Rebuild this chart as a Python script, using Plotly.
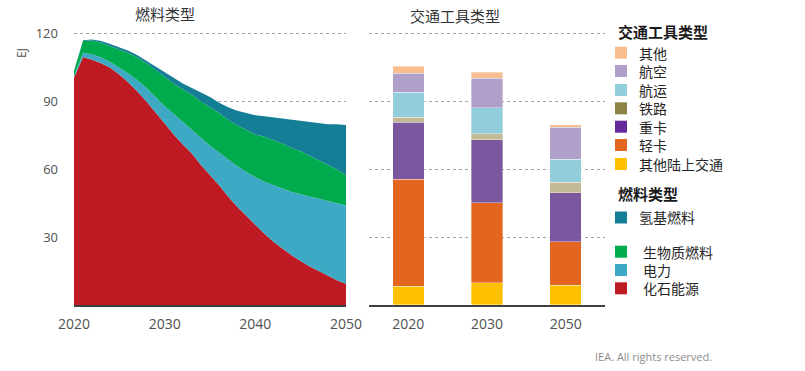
import plotly.graph_objects as go

W, H = 805, 371

# ---------------- data ----------------
years = list(range(2020, 2051))
fossil = [100.6, 109.7, 108.5, 107, 105, 102, 98.5, 94.5, 90, 85, 80, 75.5, 71, 67, 62, 57.5,
          53, 48, 43.5, 39.5, 35.5, 31.5, 28, 25, 22, 19.5, 17, 15, 13, 11, 9.4]
electricity = [0.6, 1.9, 2.5, 2.5, 2.5, 3, 4, 5, 6, 7, 8, 9, 10, 10.5, 12, 13,
               14.5, 16.5, 18, 19.5, 21, 23, 25, 26.5, 28, 29.5, 31, 32, 33, 34, 34.6]
biofuel = [2.3, 5.2, 6, 6.5, 7, 8, 9, 10, 11, 12, 13, 13.5, 14.5, 15.5, 16, 17,
           17.5, 17.5, 18, 18.5, 19, 20, 20, 20, 19.5, 19, 18, 17, 16, 15, 13.5]
hydrogen = [0.2, 0.4, 0.5, 0.8, 1, 1, 1, 1, 1, 1.5, 2, 2.5, 2.5, 3, 4, 4.5,
            4.5, 5.5, 6.5, 7.5, 8.5, 9, 10, 11, 12.5, 13.5, 15, 16.5, 18, 20, 22.1]

bar_years = ["2020", "2030", "2050"]
other_land = [8.4, 9.8, 8.7]
light_truck = [47.2, 35.5, 19.2]
heavy_truck = [25.3, 27.9, 21.8]
rail = [2.2, 2.5, 4.7]
shipping = [11.0, 11.5, 10.1]
aviation = [8.4, 13.2, 14.1]
other = [3.1, 2.5, 1.1]

y_ticks = [30, 60, 90, 120]
x_ticks = [2020, 2030, 2040, 2050]

fuel_names = ["化石能源", "电力", "生物质燃料", "氢基燃料"]
mode_names = ["其他陆上交通", "轻卡", "重卡", "铁路", "航运", "航空", "其他"]

# ---------------- styles ----------------
fuel_colors = {"化石能源": "#BE1A23", "电力": "#3DA9C4", "生物质燃料": "#00AB4E", "氢基燃料": "#147E96"}
bar_colors = {"其他陆上交通": "#FFC000", "轻卡": "#E2661F", "重卡": "#7A579E", "铁路": "#C4BB96",
              "航运": "#92CDDC", "航空": "#B09FC8", "其他": "#F9BE8F"}
legend_mode_colors = {"其他": "#F9BE8F", "航空": "#B09FC8", "航运": "#92CDDC", "铁路": "#8E8346",
                      "重卡": "#66289A", "轻卡": "#E2661F", "其他陆上交通": "#FFC000"}

FONT = "Open Sans, Noto Sans CJK SC, sans-serif"
CJK = "Noto Sans CJK SC, sans-serif"
TICK = "#505050"
GRID = "#A6A6A6"


def px_x(p):
    return p / W


def px_y(p):
    return 1 - p / H


fig = go.Figure()

fuel_series = {"化石能源": fossil, "电力": electricity, "生物质燃料": biofuel, "氢基燃料": hydrogen}
for name in fuel_names:
    fig.add_trace(go.Scatter(
        x=years, y=fuel_series[name], name=name, mode="lines",
        stackgroup="fuel", line=dict(width=0, color=fuel_colors[name]),
        fillcolor=fuel_colors[name], xaxis="x", yaxis="y", showlegend=False,
        hoverinfo="x+y+name"))

mode_series = {"其他陆上交通": other_land, "轻卡": light_truck, "重卡": heavy_truck, "铁路": rail,
               "航运": shipping, "航空": aviation, "其他": other}
for name in mode_names:
    fig.add_trace(go.Bar(
        x=bar_years, y=mode_series[name], name=name,
        marker=dict(color=bar_colors[name], line=dict(width=0.6, color="rgba(255,255,255,0.6)")),
        xaxis="x2", yaxis="y2", showlegend=False))

y_dom = [px_y(305), px_y(32.7)]
fig.update_layout(
    width=W, height=H, margin=dict(l=0, r=0, t=0, b=0, autoexpand=False),
    paper_bgcolor="white", plot_bgcolor="white",
    barmode="stack", bargap=0.6, showlegend=False,
    font=dict(family=FONT, color=TICK),
    xaxis=dict(domain=[px_x(74), px_x(346)], range=[2020, 2050], tickvals=x_ticks,
               automargin=False,
               showgrid=False, zeroline=False, showline=True, linecolor="#404040", linewidth=2,
               ticks="", tickfont=dict(size=14, color=TICK, family=FONT), ticklabelstandoff=5),
    yaxis=dict(domain=y_dom, range=[0, 120.5], tickvals=y_ticks, showgrid=True, automargin=False,
               gridcolor=GRID, griddash="dot", gridwidth=1, zeroline=False, showline=False,
               ticks="", tickfont=dict(size=13, color=TICK, family=FONT), ticklabelstandoff=15),
    xaxis2=dict(domain=[px_x(369), px_x(605)], type="category", range=[-0.5, 2.5],
                automargin=False,
                showgrid=False, zeroline=False, showline=True, linecolor="#404040", linewidth=2,
                ticks="", tickfont=dict(size=14, color=TICK, family=FONT), ticklabelstandoff=5,
                anchor="y2"),
    yaxis2=dict(domain=y_dom, range=[0, 120.5], tickvals=y_ticks, showgrid=True, automargin=False,
                gridcolor=GRID, griddash="dot", gridwidth=1, zeroline=False, showline=False,
                showticklabels=False, anchor="x2"),
)

annotations = [
    dict(text="燃料类型", x=px_x(165), y=px_y(14), xref="paper", yref="paper",
         xanchor="center", yanchor="middle", showarrow=False,
         font=dict(size=15, color="#333333", family=CJK)),
    dict(text="交通工具类型", x=px_x(455), y=px_y(15), xref="paper", yref="paper",
         xanchor="center", yanchor="middle", showarrow=False,
         font=dict(size=15, color="#333333", family=CJK)),
    dict(text="EJ", x=px_x(22), y=px_y(53), xref="paper", yref="paper", textangle=-90,
         xanchor="center", yanchor="middle", showarrow=False,
         font=dict(size=12, color=TICK, family=FONT)),
    dict(text="IEA. All rights reserved.", x=px_x(593), y=px_y(356), xref="paper", yref="paper",
         xanchor="left", yanchor="middle", showarrow=False,
         font=dict(size=11, color="#8C8C8C", family=FONT)),
    dict(text="<b>交通工具类型</b>", x=px_x(616), y=px_y(31.5), xref="paper", yref="paper",
         xanchor="left", yanchor="middle", showarrow=False,
         font=dict(size=15, color="#1a1a1a", family=CJK)),
    dict(text="<b>燃料类型</b>", x=px_x(616), y=px_y(193), xref="paper", yref="paper",
         xanchor="left", yanchor="middle", showarrow=False,
         font=dict(size=15, color="#1a1a1a", family=CJK)),
]

shapes = []
legend_modes = ["其他", "航空", "航运", "铁路", "重卡", "轻卡", "其他陆上交通"]
mode_y = [52.7, 71, 90, 108.3, 126.7, 145, 164]
for name, yc in zip(legend_modes, mode_y):
    shapes.append(dict(type="rect", xref="paper", yref="paper",
                       x0=px_x(615), x1=px_x(627), y0=px_y(yc + 6), y1=px_y(yc - 6),
                       fillcolor=legend_mode_colors[name], line=dict(width=0)))
    annotations.append(dict(text=name, x=px_x(637), y=px_y(yc), xref="paper", yref="paper",
                            xanchor="left", yanchor="middle", showarrow=False, height=16,
                            font=dict(size=14, color="#262626", family=CJK)))

legend_fuels = ["氢基燃料", "生物质燃料", "电力", "化石能源"]
fuel_y = [217.5, 251.7, 270, 288.3]
fuel_tx = [637, 641, 641, 641]
for name, yc, tx in zip(legend_fuels, fuel_y, fuel_tx):
    shapes.append(dict(type="rect", xref="paper", yref="paper",
                       x0=px_x(615), x1=px_x(627), y0=px_y(yc + 6), y1=px_y(yc - 6),
                       fillcolor=fuel_colors[name], line=dict(width=0)))
    annotations.append(dict(text=name, x=px_x(tx), y=px_y(yc), xref="paper", yref="paper",
                            xanchor="left", yanchor="middle", showarrow=False, height=16,
                            font=dict(size=14, color="#262626", family=CJK)))

fig.update_layout(annotations=annotations, shapes=shapes)
fig.write_html("out.html", config={"displayModeBar": False},
               post_script="document.body.style.margin='0';document.body.style.overflow='hidden';")
